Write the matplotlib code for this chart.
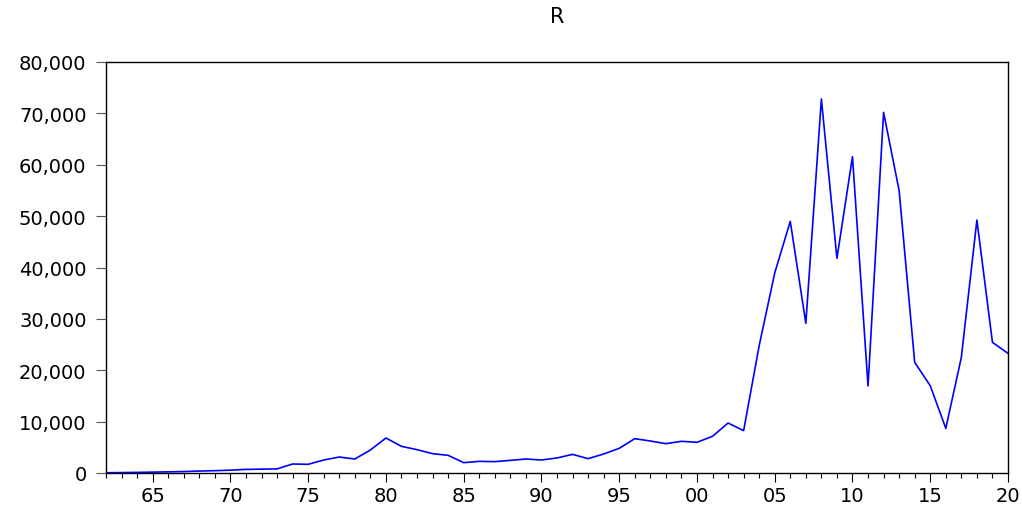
import matplotlib
matplotlib.use("Agg")
import matplotlib.pyplot as plt
import numpy as np

years = list(range(1962, 2021))
values = [50, 80, 120, 170, 220, 280, 380, 450, 550, 700, 750, 800,
          1750, 1690, 2530, 3110, 2720, 4480, 6810, 5190, 4540, 3760, 3440,
          2010, 2270, 2210, 2460, 2720, 2530, 2920, 3630, 2790, 3700, 4800,
          6680, 6230, 5710, 6170, 5970, 7140, 9730, 8240, 24780, 38930,
          48990, 29130, 72800, 41780, 61560, 16930, 70200, 54950, 21540,
          16990, 8690, 22510, 49240, 25430, 23290]
yticks = [0, 10000, 20000, 30000, 40000, 50000, 60000, 70000, 80000]
ytick_labels = ["0", "10,000", "20,000", "30,000", "40,000", "50,000",
                "60,000", "70,000", "80,000"]
xticks_major = [1965, 1970, 1975, 1980, 1985, 1990, 1995, 2000, 2005,
                2010, 2015, 2020]
xtick_labels = ["65", "70", "75", "80", "85", "90", "95", "00", "05",
                "10", "15", "20"]
title = "R"

plt.rcParams['font.family'] = ['DejaVu Sans']
fig = plt.figure(figsize=(10.22, 5.10), dpi=100)
ax = fig.add_axes([106/1022, 36/510, 902/1022, 411/510])
ax.plot(years, values, color='#0000ff', lw=1.2)
ax.set_xlim(1962, 2020)
ax.set_ylim(0, 80000)
ax.set_yticks(yticks)
ax.set_yticklabels(ytick_labels, fontsize=14)
ax.set_xticks(xticks_major)
ax.set_xticklabels(xtick_labels, fontsize=14)
ax.set_xticks(years, minor=True)
ax.tick_params(axis='y', direction='out', length=7.5, width=0.8, pad=6.5,
               color='#555555')
ax.tick_params(axis='x', which='major', direction='out', length=6.5, width=0.8, pad=3)
ax.tick_params(axis='x', which='minor', direction='out', length=3.6, width=0.8)
for s in ax.spines.values():
    s.set_linewidth(1.0)
fig.text(557/1022, 1 - 17/510, title, ha='center', va='center', fontsize=15)
fig.savefig("out.png", dpi=100)
